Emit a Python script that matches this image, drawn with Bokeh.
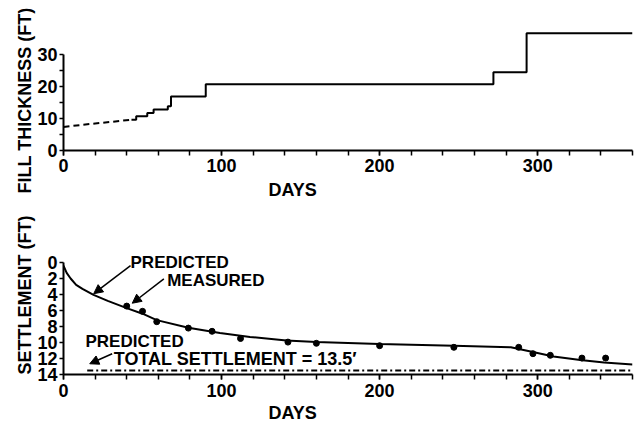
from bokeh.plotting import figure
from bokeh.layouts import column
from bokeh.models import Range1d, FixedTicker, Label, Arrow, NormalHead, Title
from bokeh.embed import file_html
from bokeh.resources import INLINE

FONT = "Liberation Sans"

# Fill placed over time (estimated early portion drawn dashed)
fill_est_days = [0, 10, 20, 30, 43]
fill_est_ft = [7.3, 7.9, 8.4, 8.9, 9.6]
fill_days = [43, 46, 53, 57, 66, 68, 90, 272, 293, 360]
fill_ft = [9.6, 10.7, 11.7, 12.8, 13.8, 16.8, 20.6, 24.4, 36.5, 36.5]

# Settlement: predicted curve and measured points
pred_days = [0, 2, 4.5, 8, 12, 19, 28, 40, 50, 59, 79, 99, 118, 141, 160,
             200, 247, 283, 297, 310, 327, 342, 360]
pred_settlement = [0.4, 1.3, 2.0, 2.8, 3.3, 4.05, 4.8, 5.7, 6.4, 7.2, 8.15,
                   8.8, 9.3, 9.75, 9.95, 10.2, 10.4, 10.6, 11.2, 11.75, 12.2,
                   12.5, 12.75]
meas_days = [40, 50, 59, 79, 94, 112, 142, 160, 200, 247, 288, 297, 308, 328, 343]
meas_settlement = [5.45, 6.1, 7.4, 8.2, 8.6, 9.5, 9.95, 10.1, 10.4, 10.6,
                   10.6, 11.4, 11.6, 11.95, 11.95]
total_settlement = 13.5
total_from_day = 15

day_ticks = [0, 100, 200, 300]
day_minor = list(range(0, 361, 20))
fill_ticks = [0, 10, 20, 30]
fill_minor = [5, 15, 25]
settle_ticks = [0, 2, 4, 6, 8, 10, 12, 14]


def style_axes(p):
    for ax in (p.xaxis[0], p.yaxis[0]):
        ax.axis_line_width = 2
        ax.axis_line_color = "black"
        ax.major_tick_line_width = 1.5
        ax.minor_tick_line_width = 1.5
        ax.major_tick_in = 0
        ax.minor_tick_in = 0
        ax.major_tick_out = 5
        ax.minor_tick_out = 5
        ax.major_label_text_font = FONT
        ax.major_label_text_font_size = "18px"
        ax.major_label_text_font_style = "bold"
        ax.major_label_text_color = "black"
    p.xgrid.visible = False
    p.ygrid.visible = False
    p.outline_line_color = None
    p.background_fill_color = "white"
    p.border_fill_color = "white"


def side_title(p, s, side, align, offset, standoff):
    p.add_layout(Title(text=s, align=align, offset=offset, standoff=standoff,
                       text_font=FONT, text_font_size="18px",
                       text_font_style="bold", text_color="black"), side)


def note(p, s, x, y, size="17px"):
    p.add_layout(Label(x=x, y=y, text=s, text_font=FONT, text_font_size=size,
                       text_font_style="bold", text_color="black",
                       text_align="left", text_baseline="alphabetic"))


# ---- upper panel: fill thickness ----
p1 = figure(width=635, height=205, output_backend="svg", toolbar_location=None,
            x_range=Range1d(0, 360), y_range=Range1d(0, 38),
            min_border_left=61, min_border_right=3, min_border_top=28,
            min_border_bottom=55)
style_axes(p1)
p1.xaxis.ticker = FixedTicker(ticks=day_ticks, minor_ticks=day_minor)
p1.xaxis.bounds = (0, 360)
p1.xaxis.major_label_standoff = 3
p1.yaxis.ticker = FixedTicker(ticks=fill_ticks, minor_ticks=fill_minor)
p1.yaxis.bounds = (0, 30)
p1.yaxis.major_tick_out = 4
p1.yaxis.minor_tick_out = 4
p1.yaxis.major_label_standoff = 2

p1.line(fill_est_days, fill_est_ft, line_color="black", line_width=2,
        line_dash="6 4")
p1.step(fill_days, fill_ft, mode="after", line_color="black", line_width=2)

side_title(p1, "FILL THICKNESS (FT)", "left", "left", -43, 0)
side_title(p1, "DAYS", "below", "left", 205, 6)

# ---- lower panel: settlement (depth increases downward) ----
p2 = figure(width=635, height=220, output_backend="svg", toolbar_location=None,
            x_range=Range1d(0, 360), y_range=Range1d(14, -5.875),
            min_border_left=63, min_border_right=3, min_border_top=10,
            min_border_bottom=51)
style_axes(p2)
p2.xaxis.ticker = FixedTicker(ticks=day_ticks, minor_ticks=day_minor)
p2.xaxis.bounds = (0, 360)
p2.xaxis.major_label_standoff = 4
p2.yaxis.ticker = FixedTicker(ticks=settle_ticks, minor_ticks=[])
p2.yaxis.bounds = (0, 14)
p2.yaxis.major_tick_out = 4
p2.yaxis.major_label_standoff = 2

p2.line(pred_days, pred_settlement, line_color="black", line_width=2)
p2.scatter(meas_days, meas_settlement, size=6, color="black")
p2.line([total_from_day, 360], [total_settlement, total_settlement],
        line_color="black", line_width=2, line_dash="6 3 2 3")

note(p2, "PREDICTED", 42.4, 0.05)
note(p2, "MEASURED", 65.6, 2.26)
note(p2, "PREDICTED", 13.9, 9.9)
note(p2, "TOTAL SETTLEMENT = 13.5\u2032", 31.8, 12.1, size="18px")

for xs, ys, xe, ye in [(42.4, 0.4, 19.1, 3.9),
                       (63.5, 2.04, 43.5, 5.09),
                       (30.8, 11.4, 16.6, 12.66)]:
    p2.add_layout(Arrow(x_start=xs, y_start=ys, x_end=xe, y_end=ye,
                        line_color="black", line_width=1.5,
                        end=NormalHead(size=9, fill_color="black",
                                       line_color="black")))

side_title(p2, "SETTLEMENT (FT)", "left", "center", 0, 0)
side_title(p2, "DAYS", "below", "left", 205, 3)

layout = column(p1, p2, spacing=0)
open("out.html", "w").write(file_html(layout, INLINE))
